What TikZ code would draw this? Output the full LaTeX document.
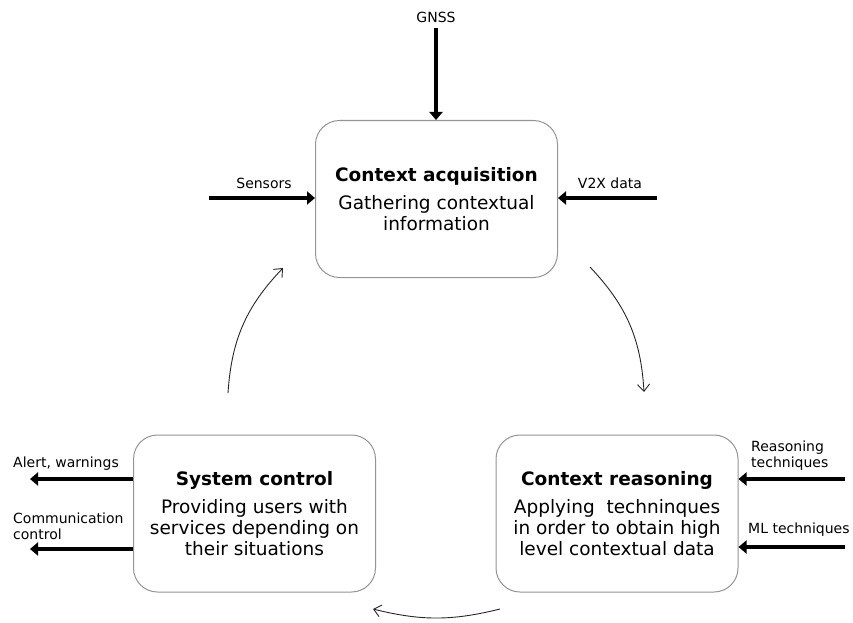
\documentclass[tikz,border=0pt]{standalone}
\usepackage{fontspec}
\setmainfont{DejaVu Sans}
\usetikzlibrary{arrows.meta,positioning}

\begin{document}
\begin{tikzpicture}[x=1pt,y=-1pt,
		stage/.style={draw=black!42, line width=1pt, rounded corners=24pt,
			minimum width=242pt, minimum height=157pt, align=center,
			font=\fontsize{18.5}{21}\selectfont},
		feed/.style={line width=4pt, -{Triangle[length=8pt,width=13pt]}},
		turn/.style={line width=0.9pt, black!85, -{Straight Barb[length=7pt,width=12pt]}},
		lbl/.style={font=\fontsize{14}{16}\selectfont, align=left, inner sep=1pt}]
		\useasboundingbox (0,0) rectangle (853,623);

		% the three stages
		\node[stage] (acq) at (436.5,199) {\textbf{Context acquisition}\\[7pt] Gathering contextual\\information};
		\node[stage] (ctrl) at (254.5,513.5) {\textbf{System control}\\[7pt] Providing users with\\services depending on\\their situations};
		\node[stage] (rsn) at (617,513.5) {\textbf{Context reasoning}\\[7pt] Applying\ \ techninques\\in order to obtain high\\level contextual data};

		% inputs of context acquisition
		\coordinate (gnssTail) at (436,28);
		\coordinate (sensTail) at (209,198);
		\coordinate (v2xTail) at (657,198);
		\node[lbl, above=4pt of gnssTail] (gnss) {GNSS};
		\node[lbl, above=8pt of sensTail, xshift=55pt] (sens) {Sensors};
		\node[lbl, above=8pt of v2xTail, xshift=-47pt] (v2x) {V2X data};
		\draw[feed] (gnssTail) -- (gnssTail |- acq.north);
		\draw[feed] (sensTail) -- (sensTail -| acq.west);
		\draw[feed] (v2xTail) -- (v2xTail -| acq.east);

		% outputs of system control
		\coordinate (alertTip) at (30,479);
		\coordinate (commTip) at (30,549);
		\node[lbl, anchor=south west] (alert) at (12,472) {Alert, warnings};
		\node[lbl, anchor=south west] (comm) at (12,541) {Communication\\control};
		\draw[feed] (alertTip -| ctrl.west) -- (alertTip);
		\draw[feed] (commTip -| ctrl.west) -- (commTip);

		% inputs of context reasoning
		\coordinate (reaTail) at (845,479);
		\coordinate (mlTail) at (845,547);
		\node[lbl, anchor=south west] (rea) at (750,472) {Reasoning\\techniques};
		\node[lbl, anchor=south west] (ml) at (747,538) {ML techniques};
		\draw[feed] (reaTail) -- (reaTail -| rsn.east);
		\draw[feed] (mlTail) -- (mlTail -| rsn.east);

		% the cycle
		\coordinate (a1) at (590,267);
		\coordinate (a2) at (644,392);
		\coordinate (b1) at (500,609);
		\coordinate (b2) at (373,609);
		\coordinate (c1) at (228,393);
		\coordinate (c2) at (283,268);
		\draw[turn] (a1) to[bend left=20] (a2);
		\draw[turn] (b1) to[bend left=14] (b2);
		\draw[turn] (c1) to[bend left=20] (c2);
	\end{tikzpicture}
\end{document}
